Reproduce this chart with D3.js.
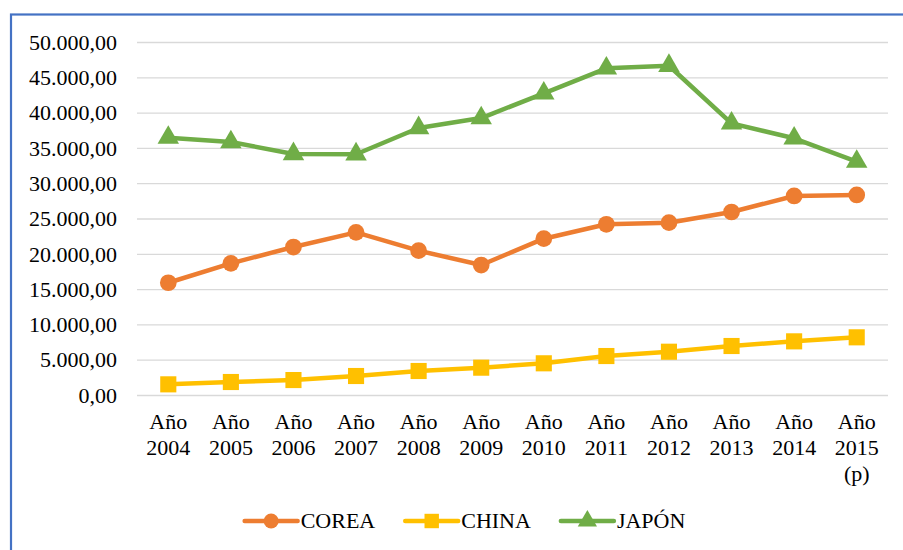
<!DOCTYPE html>
<html>
<head>
<meta charset="utf-8">
<script src="https://cdn.jsdelivr.net/npm/d3@7"></script>
<style>
  html, body { margin: 0; padding: 0; background: #fff; }
  svg { display: block; }
  svg text { font-family: "Liberation Serif", "Times New Roman", serif !important; fill: #000; }
</style>
</head>
<body>
<script>
// Categories (two-line labels; the last one carries a "(p)" note)
const years = ["2004", "2005", "2006", "2007", "2008", "2009", "2010", "2011", "2012", "2013", "2014", "2015"];
const yearLabels = [
  ["Año", "2004"], ["Año", "2005"], ["Año", "2006"], ["Año", "2007"],
  ["Año", "2008"], ["Año", "2009"], ["Año", "2010"], ["Año", "2011"],
  ["Año", "2012"], ["Año", "2013"], ["Año", "2014"], ["Año", "2015", "(p)"]
];

// Series values
const corea = [15900, 18650, 20960, 23040, 20440, 18410, 22140, 24180, 24410, 25920, 28190, 28330];
const china = [1510, 1840, 2120, 2690, 3400, 3870, 4490, 5520, 6130, 6940, 7600, 8170];
const japon = [36450, 35830, 34140, 34100, 37820, 39230, 42730, 46270, 46640, 38480, 36360, 33050];

// Axis ticks
const yTicks = [0, 5000, 10000, 15000, 20000, 25000, 30000, 35000, 40000, 45000, 50000];

const seriesNames = ["COREA", "CHINA", "JAPÓN"];
const seriesColors = ["#ED7D31", "#FFC000", "#70AD47"];
const seriesSymbols = [d3.symbolCircle, d3.symbolSquare, d3.symbolTriangle];
const seriesSizes = [220, 260, 200];

const series = [corea, china, japon].map((values, i) => ({
  name: seriesNames[i], color: seriesColors[i], symbol: seriesSymbols[i], size: seriesSizes[i],
  points: values.map((v, j) => ({ year: years[j], value: v }))
}));

const FONT = "'Liberation Serif', 'Times New Roman', serif";
const W = 903, H = 550;
const svg = d3.select("body").append("svg").attr("width", W).attr("height", H);

// Chart frame
svg.append("rect")
  .attr("x", 11).attr("y", 14.5).attr("width", W + 20).attr("height", H + 20)
  .attr("fill", "none").attr("stroke", "#4472C4").attr("stroke-width", 2.2);

const plot = { left: 137, right: 888, top: 42, bottom: 395 };

const x = d3.scaleBand().domain(years).range([plot.left, plot.right]);
const y = d3.scaleLinear().domain([0, 50000]).range([plot.bottom, plot.top]);

// Spanish number format: 50.000,00
const fmt = v => {
  const s = d3.format(",.2f")(v);
  return s.replace(/,/g, "#").replace(/\./g, ",").replace(/#/g, ".");
};

// Horizontal gridlines
svg.append("g")
  .attr("transform", `translate(${plot.left},0)`)
  .call(d3.axisLeft(y).tickValues(yTicks).tickSize(-(plot.right - plot.left)).tickFormat(""))
  .call(g => g.select(".domain").remove())
  .call(g => g.selectAll(".tick line").attr("stroke", "#D9D9D9").attr("stroke-width", 1.3));

// Y axis labels
const yAxis = svg.append("g")
  .attr("transform", `translate(${plot.left},0)`)
  .call(d3.axisLeft(y).tickValues(yTicks).tickSize(0).tickPadding(20).tickFormat(fmt))
  .attr("font-family", null);
yAxis.select(".domain").remove();
yAxis.selectAll(".tick text")
  .style("font-family", FONT)
  .attr("font-size", 22).attr("fill", "#000").attr("dy", "0.33em");

// X axis labels
const xAxis = svg.append("g")
  .attr("transform", `translate(0,${plot.bottom})`)
  .call(d3.axisBottom(x).tickSize(0).tickFormat(""))
  .attr("font-family", null);
xAxis.select(".domain").remove();
xAxis.selectAll(".tick").each(function(d, i) {
  const t = d3.select(this).append("text")
    .style("font-family", FONT)
    .attr("font-size", 22).attr("fill", "#000").attr("text-anchor", "middle");
  yearLabels[i].forEach((line, k) => {
    t.append("tspan").attr("x", 0).attr("y", 34 + k * 26).text(line);
  });
});

// Lines and markers
const line = d3.line().x(d => x(d.year) + x.bandwidth() / 2).y(d => y(d.value));

series.forEach(s => {
  const g = svg.append("g");
  g.append("path").datum(s.points)
    .attr("d", line).attr("fill", "none")
    .attr("stroke", s.color).attr("stroke-width", 4.5)
    .attr("stroke-linejoin", "round").attr("stroke-linecap", "round");
  g.selectAll("path.marker").data(s.points).join("path")
    .attr("class", "marker")
    .attr("transform", d => `translate(${x(d.year) + x.bandwidth() / 2},${y(d.value)})`)
    .attr("d", d3.symbol().type(s.symbol).size(s.size))
    .attr("fill", s.color);
});

// Legend
const legend = svg.append("g");
const legendY = 521;
let lx = 0;
series.forEach(s => {
  const item = legend.append("g");
  item.append("line").attr("x1", 0).attr("x2", 53).attr("y1", 0).attr("y2", 0)
    .attr("stroke", s.color).attr("stroke-width", 4.5).attr("stroke-linecap", "round");
  item.append("path").attr("transform", "translate(26.5,0)")
    .attr("d", d3.symbol().type(s.symbol).size(s.size * 0.8)).attr("fill", s.color);
  const t = item.append("text").attr("x", 56).attr("y", 0).attr("dy", "0.33em")
    .style("font-family", FONT)
    .attr("font-size", 22).text(s.name);
  const w = 56 + t.node().getComputedTextLength();
  item.attr("transform", `translate(${lx},${legendY})`);
  lx += w + 30;
});
const totalW = lx - 30;
legend.attr("transform", `translate(${465 - totalW / 2},0)`);
</script>
</body>
</html>
